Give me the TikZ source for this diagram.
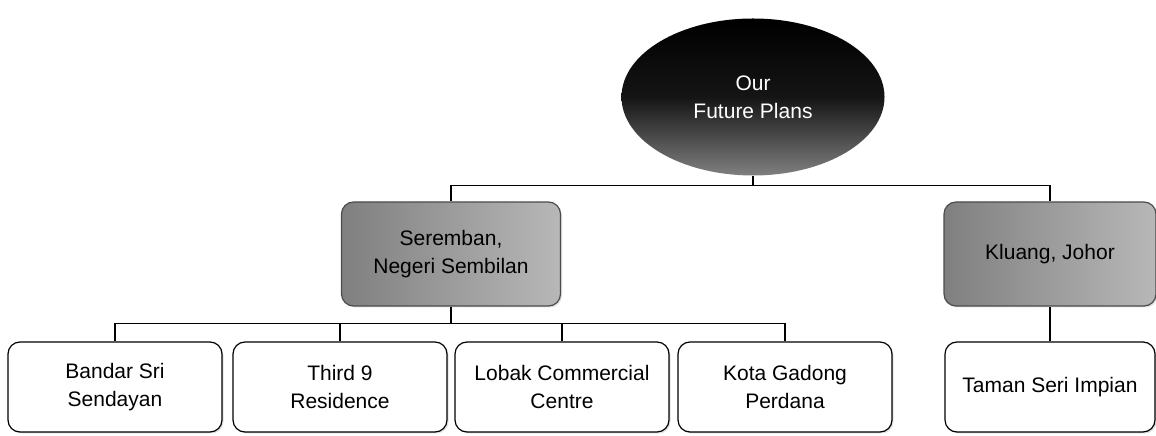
\documentclass[tikz,border=0pt]{standalone}
\usepackage{fontspec}
\setmainfont{Liberation Sans}
\usepackage{tikz}
\usetikzlibrary{positioning,shapes,shadows}

\tikzset{
    plan/.style={ellipse, inner sep=0pt, minimum width=263pt, minimum height=157pt,
        top color=black, bottom color=black!50, middle color=black!92,
        text=white, align=center, font=\fontsize{21}{28}\selectfont},
    region/.style={rectangle, rounded corners=12pt, draw=black!70, line width=1.2pt,
        minimum height=104pt, align=center, font=\fontsize{21}{28}\selectfont,
        left color=black!50, right color=black!28,
        drop shadow={opacity=0.25, shadow xshift=1.5pt, shadow yshift=-1.5pt}},
    site/.style={rectangle, rounded corners=12pt, draw=black, line width=1.2pt, fill=white,
        minimum width=214pt, minimum height=90pt, align=center,
        font=\fontsize{21}{28}\selectfont,
        drop shadow={opacity=0.25, shadow xshift=1.5pt, shadow yshift=-1.5pt}},
    link/.style={draw=black, line width=1.2pt}
}

\begin{document}
\begin{tikzpicture}[x=1pt,y=1pt]
\useasboundingbox (0,0) rectangle (1156,436);

\node[plan] (plans) at (753,339) {Our\\Future Plans};

\node[region, minimum width=219pt] (seremban) at (451,182) {Seremban,\\Negeri Sembilan};
\node[region, minimum width=212pt] (kluang) at (1050,182) {Kluang, Johor};

\foreach \x/\name/\label in {115/bandar/{Bandar Sri\\Sendayan}, 340/third/{Third 9\\Residence},
    562/lobak/{Lobak Commercial\\Centre}, 785/kota/{Kota Gadong\\Perdana}} {
    \node[site] (\name) at (\x,49) {\label};
    \draw[link] (seremban.south) -- ++(0,-17) -| (\name.north);
}

\node[site, minimum width=210pt] (taman) at (1050,49) {Taman Seri Impian};

\draw[link] (plans.south) -- ++(0,-10) -| (seremban.north);
\draw[link] (plans.south) -- ++(0,-10) -| (kluang.north);
\draw[link] (kluang) -- (taman);
\end{tikzpicture}
\end{document}
